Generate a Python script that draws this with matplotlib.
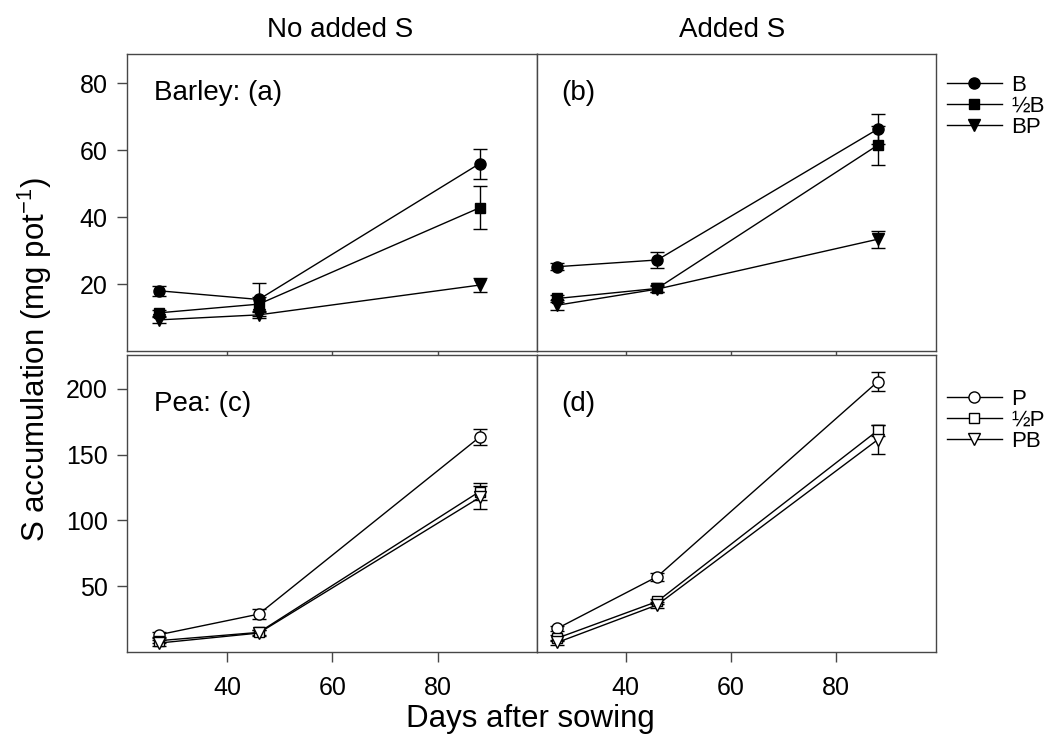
import matplotlib
matplotlib.use("Agg")
import matplotlib.pyplot as plt
from matplotlib.lines import Line2D

plt.rcParams['font.family'] = ['Liberation Sans', 'DejaVu Sans']
plt.rcParams['mathtext.fontset'] = 'custom'
plt.rcParams['mathtext.rm'] = 'Liberation Sans'
plt.rcParams['mathtext.it'] = 'Liberation Sans:italic'

# Sampling days
days = [27, 46, 88]

# Barley, no added S (a)
a_B = [18.0, 15.4, 56.0]
a_B_err = [1.5, 5.0, 4.5]
a_halfB = [11.4, 14.0, 42.8]
a_halfB_err = [1.0, 2.0, 6.4]
a_BP = [9.3, 10.8, 19.7]
a_BP_err = [1.0, 1.0, 2.0]

# Barley, added S (b)
b_B = [25.2, 27.2, 66.3]
b_B_err = [1.0, 2.3, 4.5]
b_halfB = [15.7, 18.7, 61.5]
b_halfB_err = [1.0, 1.0, 5.8]
b_BP = [13.7, 18.5, 33.4]
b_BP_err = [1.5, 1.0, 2.6]

# Pea, no added S (c)
c_P = [13.1, 28.8, 163.4]
c_P_err = [2.0, 4.0, 6.0]
c_halfP = [8.6, 14.9, 122.0]
c_halfP_err = [2.0, 2.0, 6.6]
c_PB = [6.8, 14.4, 117.5]
c_PB_err = [2.0, 2.0, 9.0]

# Pea, added S (d)
d_P = [18.0, 57.3, 205.5]
d_P_err = [2.0, 3.0, 7.0]
d_halfP = [10.6, 38.4, 168.4]
d_halfP_err = [2.0, 2.0, 4.3]
d_PB = [7.3, 35.8, 161.4]
d_PB_err = [2.0, 2.0, 11.0]

barley_labels = ['B', '\u00bdB', 'BP']
pea_labels = ['P', '\u00bdP', 'PB']
col_titles = ['No added S', 'Added S']
panel_labels = ['Barley: (a)', '(b)', 'Pea: (c)', '(d)']

W, H = 1056, 742
fig = plt.figure(figsize=(W / 100, H / 100), dpi=100)


def px_axes(left, right, top, bottom):
    return fig.add_axes([left / W, 1 - bottom / H, (right - left) / W, (bottom - top) / H])


ax_a = px_axes(127, 537, 54, 351)
ax_b = px_axes(537, 936, 54, 351)
ax_c = px_axes(127, 537, 355, 652)
ax_d = px_axes(537, 936, 355, 652)

frame_col = '#474747'
tick_fs = 18
legend_fs = 16
label_fs = 20
axis_label_fs = 22.5

styles_barley = [
    dict(marker='o', ms=8, mfc='black', mec='black'),
    dict(marker='s', ms=6.5, mfc='black', mec='black'),
    dict(marker='v', ms=8, mfc='black', mec='black'),
]
styles_pea = [
    dict(marker='o', ms=8, mfc='white', mec='black', mew=1.0),
    dict(marker='s', ms=6.5, mfc='white', mec='black', mew=1.0),
    dict(marker='v', ms=8, mfc='white', mec='black', mew=1.0),
]


def draw(ax, series, styles):
    for (vals, errs), st in zip(series, styles):
        ax.errorbar(days, vals, yerr=errs, color='black', lw=1.0, elinewidth=1.0,
                    capsize=4.8, capthick=1.0, **st)


draw(ax_a, [(a_B, a_B_err), (a_halfB, a_halfB_err), (a_BP, a_BP_err)], styles_barley)
draw(ax_b, [(b_B, b_B_err), (b_halfB, b_halfB_err), (b_BP, b_BP_err)], styles_barley)
draw(ax_c, [(c_P, c_P_err), (c_halfP, c_halfP_err), (c_PB, c_PB_err)], styles_pea)
draw(ax_d, [(d_P, d_P_err), (d_halfP, d_halfP_err), (d_PB, d_PB_err)], styles_pea)

for ax in (ax_a, ax_c):
    ax.set_xlim(20.95, 98.9)
for ax in (ax_b, ax_d):
    ax.set_xlim(23.1, 99.1)
for ax in (ax_a, ax_b):
    ax.set_ylim(0, 88.75)
for ax in (ax_c, ax_d):
    ax.set_ylim(0, 225.8)

for ax in (ax_a, ax_b, ax_c, ax_d):
    for sp in ax.spines.values():
        sp.set_color(frame_col)
        sp.set_linewidth(1.0)
    ax.set_xticks([40, 60, 80])
    ax.tick_params(direction='out', length=5, width=1.0, color=frame_col,
                   labelsize=tick_fs, pad=6)

ax_a.set_yticks([20, 40, 60, 80])
ax_c.set_yticks([50, 100, 150, 200])
for ax in (ax_b, ax_d):
    ax.tick_params(axis='y', left=False, labelleft=False)
for ax in (ax_a, ax_b):
    ax.tick_params(axis='x', labelbottom=False, length=3)
ax_c.tick_params(axis='x', length=7, pad=10)
ax_d.tick_params(axis='x', length=7, pad=10)
ax_a.tick_params(axis='y', length=7, pad=7)
ax_c.tick_params(axis='y', length=7, pad=7)

ax_a.text(0.066, 0.845, panel_labels[0], transform=ax_a.transAxes, fontsize=label_fs, va='baseline')
ax_b.text(0.06, 0.845, panel_labels[1], transform=ax_b.transAxes, fontsize=label_fs, va='baseline')
ax_c.text(0.066, 0.81, panel_labels[2], transform=ax_c.transAxes, fontsize=label_fs, va='baseline')
ax_d.text(0.06, 0.81, panel_labels[3], transform=ax_d.transAxes, fontsize=label_fs, va='baseline')

ax_a.text(0.52, 1.057, col_titles[0], transform=ax_a.transAxes, fontsize=label_fs,
          ha='center', va='baseline')
ax_b.text(0.49, 1.057, col_titles[1], transform=ax_b.transAxes, fontsize=label_fs,
          ha='center', va='baseline')

fig.text(530 / W, 1 - 719 / H, 'Days after sowing', fontsize=axis_label_fs, ha='center', va='center')
fig.text(35 / W, 1 - 360 / H, 'S accumulation (mg pot$^{-1}$)', fontsize=axis_label_fs,
         rotation=90, ha='center', va='center')


def legend_for(ax, labels, styles, top):
    handles = [Line2D([], [], color='black', lw=1.0, **st) for st in styles]
    ax.legend(handles, labels, loc='upper left', bbox_to_anchor=(1.028, top),
              frameon=False, fontsize=legend_fs, handlelength=2.45, handletextpad=0.45,
              labelspacing=0.0, borderaxespad=0.0, borderpad=0.0)


legend_for(ax_b, barley_labels, styles_barley, 0.93)
legend_for(ax_d, pea_labels, styles_pea, 0.885)

fig.savefig('out.png', dpi=100)
